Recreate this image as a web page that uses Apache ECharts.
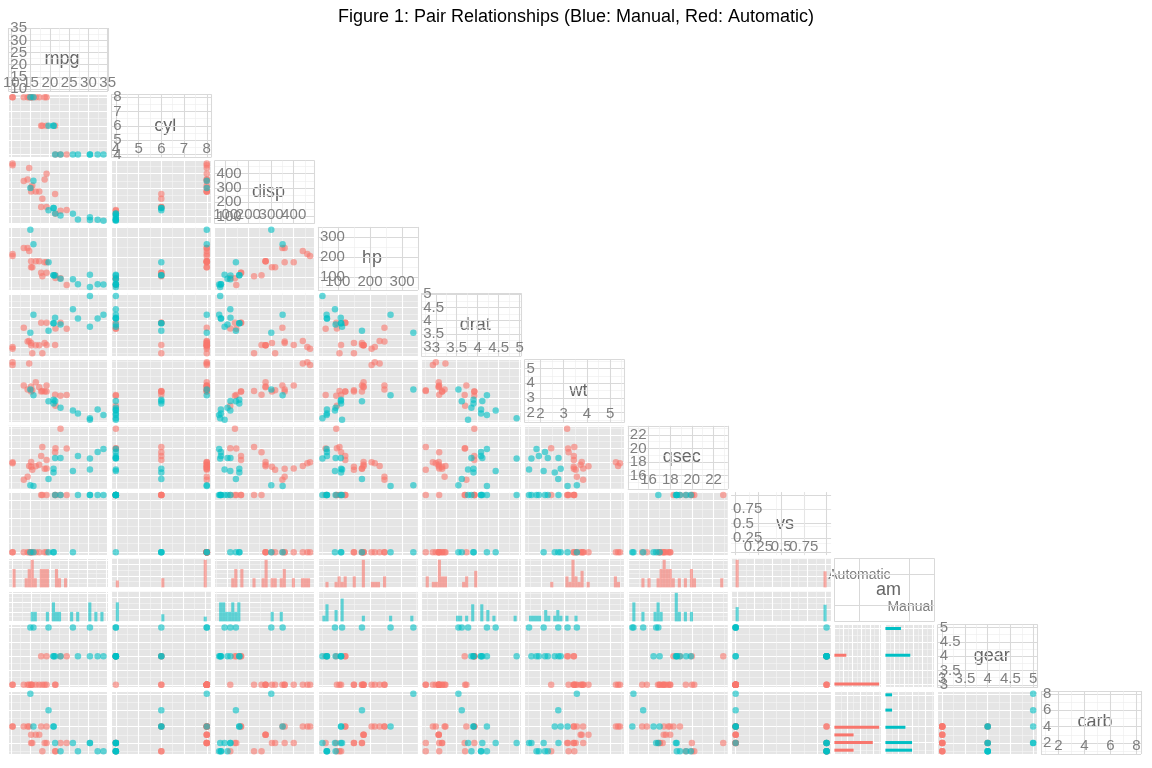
<!DOCTYPE html>
<html>
<head>
<meta charset="utf-8">
<script src="https://cdn.jsdelivr.net/npm/echarts@6/dist/echarts.min.js"></script>
<style>html,body{margin:0;padding:0;background:#fff}#c{width:1152px;height:768px}</style>
</head>
<body>
<div id="c"></div>
<script>
var varNames = ['mpg','cyl','disp','hp','drat','wt','qsec','vs','am','gear','carb'];
var mpg = [21,21,22.8,21.4,18.7,18.1,14.3,24.4,22.8,19.2,17.8,16.4,17.3,15.2,10.4,10.4,14.7,32.4,30.4,33.9,21.5,15.5,15.2,13.3,19.2,27.3,26,30.4,15.8,19.7,15,21.4];
var cyl = [6,6,4,6,8,6,8,4,4,6,6,8,8,8,8,8,8,4,4,4,4,8,8,8,8,4,4,4,8,6,8,4];
var disp = [160,160,108,258,360,225,360,146.7,140.8,167.6,167.6,275.8,275.8,275.8,472,460,440,78.7,75.7,71.1,120.1,318,304,350,400,79,120.3,95.1,351,145,301,121];
var hp = [110,110,93,110,175,105,245,62,95,123,123,180,180,180,205,215,230,66,52,65,97,150,150,245,175,66,91,113,264,175,335,109];
var drat = [3.9,3.9,3.85,3.08,3.15,2.76,3.21,3.69,3.92,3.92,3.92,3.07,3.07,3.07,2.93,3,3.23,4.08,4.93,4.22,3.7,2.76,3.15,3.73,3.08,4.08,4.43,3.77,4.22,3.62,3.54,4.11];
var wt = [2.62,2.875,2.32,3.215,3.44,3.46,3.57,3.19,3.15,3.44,3.44,4.07,3.73,3.78,5.25,5.424,5.345,2.2,1.615,1.835,2.465,3.52,3.435,3.84,3.845,1.935,2.14,1.513,3.17,2.77,3.57,2.78];
var qsec = [16.46,17.02,18.61,19.44,17.02,20.22,15.84,20,22.9,18.3,18.9,17.4,17.6,18,17.98,17.82,17.42,19.47,18.52,19.9,20.01,16.87,17.3,15.41,17.05,18.9,16.7,16.9,14.5,15.5,14.6,18.6];
var vs = [0,0,1,1,0,1,0,1,1,1,1,0,0,0,0,0,0,1,1,1,1,0,0,0,0,1,0,1,0,0,0,1];
var am = [1,1,1,0,0,0,0,0,0,0,0,0,0,0,0,0,0,1,1,1,0,0,0,0,0,1,1,1,1,1,1,1];
var gear = [4,4,4,3,3,3,3,4,4,4,4,3,3,3,3,3,3,4,4,4,3,3,3,3,3,4,5,5,5,5,5,4];
var carb = [4,4,1,1,2,1,4,2,2,4,4,3,3,3,4,4,4,1,2,1,1,2,2,4,2,1,2,2,4,6,8,2];
var tickStep = [5,1,100,100,0.5,1,2,0.25,1,0.5,2];
var vsTicks = [0, 0.25, 0.5, 0.75, 1];
var amLabels = ['Automatic','Manual'];

var cols = [mpg,cyl,disp,hp,drat,wt,qsec,vs,am,gear,carb];
var RED = '#F8766D', BLUE = '#00BFC4';
var L0 = 8, T0 = 28, PX = 103.3, PY = 66.3, W = 100, H = 63;
var FONT = 'Liberation Sans';

function extent(a, pad0) {
  var mn = Math.min.apply(null, a) - (pad0 || 0), mx = Math.max.apply(null, a) + (pad0 || 0);
  var p = (mx - mn) * 0.05;
  return [mn - p, mx + p];
}
var grids = [], xAxes = [], yAxes = [], series = [], graphics = [];

function axis(ext, step, diag, isX, extra) {
  var a = {
    type: 'value', min: ext[0], max: ext[1],
    splitNumber: Math.max(1, Math.round((ext[1] - ext[0]) / step)),
    axisLine: {show: false}, axisTick: {show: false},
    axisLabel: {show: false},
    splitLine: {show: true, lineStyle: {color: diag ? '#D9D9D9' : '#FFFFFF', width: 1.1}},
    minorTick: {show: false, splitNumber: 2},
    minorSplitLine: {show: true, lineStyle: {color: diag ? '#EDEDED' : '#F5F5F5', width: 0.6}}
  };
  if (diag) {
    a.axisLabel = {show: true, inside: true, color: '#7F7F7F', fontSize: 15, fontFamily: FONT,
      margin: isX ? 1 : 2, showMinLabel: false, showMaxLabel: false};
  }
  if (extra) for (var k in extra) a[k] = extra[k];
  return a;
}
function addGrid(l, t, w, h, diag) {
  grids.push({left: l, top: t, width: w, height: h, show: true,
    backgroundColor: diag ? '#FFFFFF' : '#E5E5E5', borderWidth: 0, containLabel: false});
  return grids.length - 1;
}
function pair(xa, ya, cond) {
  var out = [];
  for (var k = 0; k < xa.length; k++) if (cond(k)) out.push([xa[k], ya[k]]);
  return out;
}
function pointSeries(g, data, color) {
  series.push({type: 'scatter', xAxisIndex: g, yAxisIndex: g, data: data, symbol: 'circle',
    symbolSize: 6.5, itemStyle: {color: color, opacity: 0.6}, silent: true});
}
function histBins(a, cond) {
  var mn = Math.min.apply(null, a), mx = Math.max.apply(null, a), w = (mx - mn) / 29;
  var cnt = [];
  for (var b = 0; b < 30; b++) cnt.push(0);
  for (var k = 0; k < a.length; k++) if (cond(k)) cnt[Math.min(29, Math.floor((a[k] - mn) / w + 0.5))]++;
  var out = [];
  for (b = 0; b < 30; b++) if (cnt[b] > 0) out.push([mn + b * w, cnt[b]]);
  return {data: out, w: w};
}
function hBarRender(params, api) {
  var y = api.value(1), c = api.value(0);
  var p0 = api.coord([0, y]), p1 = api.coord([c, y]);
  return {type: 'rect', shape: {x: p0[0], y: p0[1] - 1.5, width: p1[0] - p0[0], height: 3},
    style: {fill: api.visual('color')}};
}

for (var i = 0; i < 11; i++) {
  for (var j = 0; j <= i; j++) {
    var l = L0 + j * PX, t = T0 + i * PY, g;
    if (i === j) {
      g = addGrid(l, t, W, H, true);
      if (i === 8) {
        xAxes.push(axis([0.5, 2.5], 1, false, true, {splitLine: {lineStyle: {color: '#D9D9D9'}}, minorSplitLine: {show: false}}));
        yAxes.push(axis([0.5, 2.5], 1, false, false, {splitLine: {lineStyle: {color: '#D9D9D9'}}, minorSplitLine: {show: false}}));
        graphics.push({type: 'text', x: l + W * 0.25, y: t + H * 0.27, style: {text: amLabels[0], fill: '#7F7F7F',
          font: '14px ' + FONT, align: 'center', verticalAlign: 'middle'}});
        graphics.push({type: 'text', x: l + W * 0.76, y: t + H * 0.77, style: {text: amLabels[1], fill: '#7F7F7F',
          font: '14px ' + FONT, align: 'center', verticalAlign: 'middle'}});
      } else {
        var e = extent(cols[i]);
        var xa = axis(e, tickStep[i], true, true), ya = axis(e, tickStep[i], true, false);
        if (i === 7) {
          [xa, ya].forEach(function (a) {
            a.axisLabel.customValues = vsTicks;
            a.axisTick = {show: false, customValues: vsTicks};
          });
        }
        xAxes.push(xa);
        yAxes.push(ya);
      }
      graphics.push({type: 'text', x: l + W / 2 + 4, y: t + H / 2, style: {text: varNames[i], fill: '#666666',
        font: '18px ' + FONT, align: 'center', verticalAlign: 'middle'}});
      continue;
    }
    if (i === 8) {
      // faceted histograms by am
      var h0 = histBins(cols[j], function (k) { return am[k] === 0; });
      var h1 = histBins(cols[j], function (k) { return am[k] === 1; });
      var ymax = 0;
      h0.data.concat(h1.data).forEach(function (d) { ymax = Math.max(ymax, d[1]); });
      var ex = extent(cols[j], h0.w / 2);
      var sub = [[t, 29, h0.data, RED], [t + 33, 30, h1.data, BLUE]];
      sub.forEach(function (s) {
        var gg = addGrid(l, s[0], W, s[1], false);
        xAxes.push(axis(ex, tickStep[j], false, true));
        yAxes.push(axis([0, ymax * 1.05], Math.max(1, Math.ceil(ymax / 3)), false, false, {min: 0}));
        series.push({type: 'bar', xAxisIndex: gg, yAxisIndex: gg, data: s[2], barWidth: 3.1,
          itemStyle: {color: s[3], opacity: 0.6}, silent: true});
      });
      continue;
    }
    if (j === 8) {
      // horizontal faceted histograms of gear / carb by am
      var c0 = histBins(cols[i], function (k) { return am[k] === 0; });
      var c1 = histBins(cols[i], function (k) { return am[k] === 1; });
      var xmax = 0;
      c0.data.concat(c1.data).forEach(function (d) { xmax = Math.max(xmax, d[1]); });
      var ey = extent(cols[i], c0.w / 2);
      [[l, 47, c0.data, RED], [l + 51, 49, c1.data, BLUE]].forEach(function (s) {
        var gg = addGrid(s[0], t, s[1], H, false);
        xAxes.push(axis([0, xmax * 1.05], 2.5, false, true, {min: 0}));
        yAxes.push(axis(ey, tickStep[i], false, false));
        series.push({type: 'custom', xAxisIndex: gg, yAxisIndex: gg, renderItem: hBarRender,
          data: s[2].map(function (d) { return [d[1], d[0]]; }),
          itemStyle: {color: s[3], opacity: 0.6}, silent: true});
      });
      continue;
    }
    g = addGrid(l, t, W, H, false);
    xAxes.push(axis(extent(cols[j]), tickStep[j], false, true));
    yAxes.push(axis(extent(cols[i]), tickStep[i], false, false));
    pointSeries(g, pair(cols[j], cols[i], function (k) { return am[k] === 0; }), RED);
    pointSeries(g, pair(cols[j], cols[i], function (k) { return am[k] === 1; }), BLUE);
  }
}
xAxes.forEach(function (a, k) { a.gridIndex = k; });
yAxes.forEach(function (a, k) { a.gridIndex = k; });

var chart = echarts.init(document.getElementById('c'));
chart.setOption({
  animation: false,
  title: {text: 'Figure 1: Pair Relationships (Blue: Manual, Red: Automatic)', left: 'center', top: 3,
    textStyle: {fontSize: 18, fontWeight: 'normal', color: '#000', fontFamily: FONT}},
  grid: grids, xAxis: xAxes, yAxis: yAxes, series: series, graphic: graphics
});
</script>
</body>
</html>
